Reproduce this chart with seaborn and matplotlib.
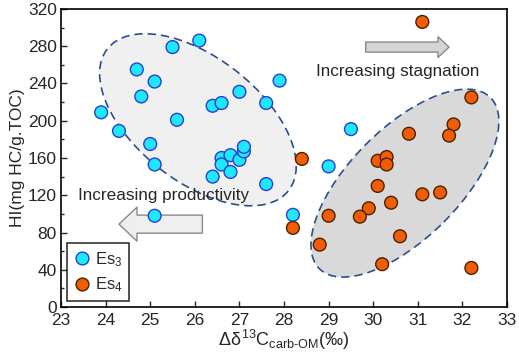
import numpy as np
import pandas as pd
import matplotlib
matplotlib.use("Agg")
import matplotlib.pyplot as plt
import matplotlib.transforms as mtransforms
from matplotlib.patches import Ellipse
import seaborn as sns

# Es3 samples (delta13C carb-OM, HI)
es3_x = [23.9, 24.3, 25.0, 25.1, 24.7, 24.8, 25.1, 25.5, 26.1, 25.6, 26.4, 26.6,
         27.0, 27.6, 27.9, 26.6, 26.6, 26.8, 27.0, 27.1, 27.1, 26.8, 26.4, 27.6,
         25.1, 28.2, 29.5, 29.0]
es3_hi = [209, 189, 175, 153, 255, 226, 242, 279, 286, 201, 216, 219,
          231, 219, 243, 160, 153, 163, 158, 167, 172, 145, 140, 132,
          98, 99, 191, 151]

# Es4 samples
es4_x = [31.1, 28.4, 28.2, 32.2, 31.8, 31.7, 30.8, 30.1, 30.3, 30.3, 30.1, 31.1,
         31.5, 30.4, 29.9, 29.7, 29.0, 30.6, 28.8, 30.2, 32.2]
es4_hi = [306, 159, 85, 225, 196, 184, 186, 157, 161, 153, 130, 121,
          123, 112, 106, 97, 98, 76, 67, 46, 42]

df = pd.concat([
    pd.DataFrame({"d13c": es3_x, "hi": es3_hi, "group": "Es$_3$"}),
    pd.DataFrame({"d13c": es4_x, "hi": es4_hi, "group": "Es$_4$"}),
])

sns.set_style("ticks")
plt.rcParams["font.family"] = ["Liberation Sans", "DejaVu Sans"]
plt.rcParams["mathtext.fontset"] = "custom"
plt.rcParams["mathtext.rm"] = "Liberation Sans"
plt.rcParams["mathtext.it"] = "Liberation Sans"

fig = plt.figure(figsize=(5.19, 3.55), dpi=100)
ax = fig.add_axes([0.1175, 0.135, 0.8595, 0.84])
ax.set_xlim(23, 33)
ax.set_ylim(0, 320)

# grouping ellipses (size in inches, placed at a data centre)
def add_ellipse(cx, cy, w, h, angle, fc):
    tr = fig.dpi_scale_trans + mtransforms.ScaledTranslation(cx, cy, ax.transData)
    e = Ellipse((0, 0), w, h, angle=angle, transform=tr, facecolor=fc,
                edgecolor="#2c4f8c", lw=1.2, linestyle=(0, (5, 3)), zorder=1)
    ax.add_patch(e)

add_ellipse(26.07, 201, 2.30, 1.24, -38, "#f0f0f0")
add_ellipse(30.71, 133, 2.42, 1.10, 45, "#d9d9d9")

# trend arrows
ax.annotate("", xy=(31.70, 279), xytext=(29.83, 279),
            arrowprops=dict(arrowstyle="simple,head_length=8,head_width=15,tail_width=7.2",
                            mutation_scale=1, shrinkA=0, shrinkB=0,
                            fc="#d4d4d4", ec="#8a8a8a", lw=1), zorder=2)
ax.annotate("", xy=(24.30, 89), xytext=(26.17, 89),
            arrowprops=dict(arrowstyle="simple,head_length=13,head_width=24.5,tail_width=13",
                            mutation_scale=1, shrinkA=0, shrinkB=0,
                            fc="#efefef", ec="#8a8a8a", lw=1), zorder=2)

ax.text(30.55, 253, "Increasing stagnation", ha="center", va="center", fontsize=12.3)
ax.text(25.29, 120, "Increasing productivity", ha="center", va="center", fontsize=12.3)

sns.scatterplot(data=df, x="d13c", y="hi", hue="group", style="group",
                markers={"Es$_3$": "o", "Es$_4$": "o"},
                palette={"Es$_3$": "#1ee8ff", "Es$_4$": "#f25c05"},
                s=85, linewidth=1.0, zorder=3, ax=ax, legend=True)
# edge colors per group
cols = ax.collections[-1]
cols.set_edgecolor(["#2a3fd0"] * len(es3_x) + ["#4a2200"] * len(es4_x))

handles, labels = ax.get_legend_handles_labels()
handles[0].set_markeredgecolor("#2a3fd0")
handles[1].set_markeredgecolor("#4a2200")
leg = ax.legend(handles, labels, loc="lower left", bbox_to_anchor=(0.005, 0.01),
                frameon=True, fancybox=False, edgecolor="black", fontsize=12,
                handletextpad=0.2, borderpad=0.4, labelspacing=0.4, markerscale=1.0,
                handlelength=1.1, borderaxespad=0.2)
leg.get_frame().set_linewidth(1.2)

ax.set_xticks(np.arange(23, 34, 1))
ax.set_yticks(np.arange(0, 321, 40))
ax.set_yticks(np.arange(20, 320, 40), minor=True)
ax.tick_params(direction="in", length=4, width=1, labelsize=12.5, top=False, right=False)
ax.tick_params(axis="x", pad=4)
ax.tick_params(axis="y", pad=3)
ax.tick_params(which="minor", direction="in", length=2.5, width=1)
for sp in ax.spines.values():
    sp.set_linewidth(1.2)
    sp.set_color("black")

ax.set_xlabel(r"$\Delta\delta^{13}$C$_{\mathrm{carb\text{-}OM}}$(‰)", fontsize=13, labelpad=0)
ax.set_ylabel("HI(mg HC/g.TOC)", fontsize=12.5, labelpad=2)

fig.savefig("out.png", dpi=100)
